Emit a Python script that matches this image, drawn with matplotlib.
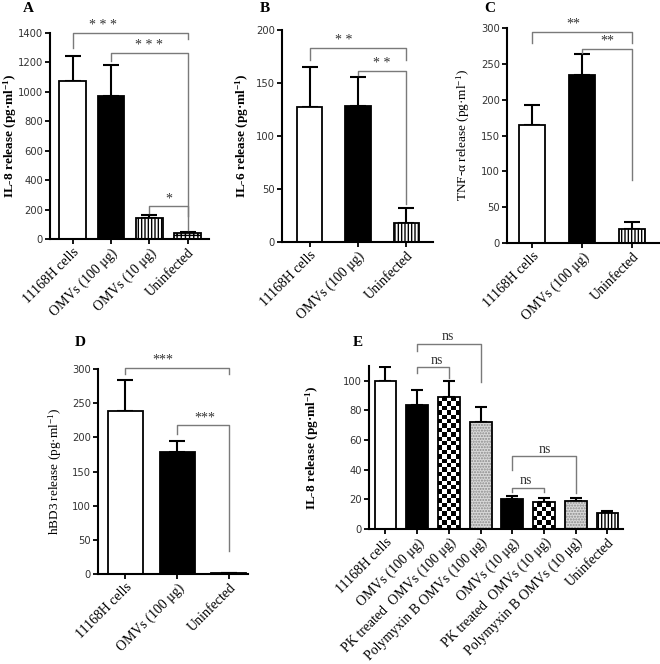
import numpy as np
import matplotlib
matplotlib.use("Agg")
import matplotlib.pyplot as plt

plt.rcParams['font.family'] = ['Liberation Serif', 'DejaVu Serif']
plt.rcParams['mathtext.default'] = 'regular'

# panel A
a_labels = ['11168H cells', 'OMVs (100 μg)', 'OMVs (10 μg)', 'Uninfected']
a_vals = [1075, 975, 145, 40]
a_err = [170, 205, 20, 10]
a_ticks = [0, 200, 400, 600, 800, 1000, 1200, 1400]

# panel B
b_labels = ['11168H cells', 'OMVs (100 μg)', 'Uninfected']
b_vals = [127, 128, 18]
b_err = [38, 28, 14]
b_ticks = [0, 50, 100, 150, 200]

# panel C
c_labels = ['11168H cells', 'OMVs (100 μg)', 'Uninfected']
c_vals = [165, 235, 20]
c_err = [28, 29, 9]
c_ticks = [0, 50, 100, 150, 200, 250, 300]

# panel D
d_labels = ['11168H cells', 'OMVs (100 μg)', 'Uninfected']
d_vals = [238, 179, 1]
d_err = [46, 15, 0]
d_ticks = [0, 50, 100, 150, 200, 250, 300]

# panel E
e_labels = ['11168H cells', 'OMVs (100 μg)', 'PK treated  OMVs (100 μg)',
            'Polymyxin B OMVs (100 μg)', 'OMVs (10 μg)', 'PK treated  OMVs (10 μg)',
            'Polymyxin B OMVs (10 μg)', 'Uninfected']
e_vals = [100, 84, 89, 72, 20, 18, 19, 11]
e_err = [9, 10, 11, 10, 2, 3, 2, 1]
e_ticks = [0, 20, 40, 60, 80, 100]

# brackets: (from, to, top, left end, right end, text, text x)
a_sig = [(0, 3, 1400, 1300, 1360, '* * *', 0.8), (1, 3, 1264, 1207, 63, '* * *', 2.0),
         (2, 3, 222, 177, 154, '*', 2.5)]
b_sig = [(0, 2, 183, 172, 172, '* *', 0.7), (1, 2, 161, 158, 36, '* *', 1.5)]
c_sig = [(0, 2, 295, 279, 279, '**', 0.82), (1, 2, 271, 265, 88, '**', 1.5)]
d_sig = [(0, 2, 302, 292, 292, '***', 0.73), (1, 2, 217.5, 205, 34, '***', 1.53)]
e_sig = [(1, 3, 125, 120, 99.5, 'ns', 1.97), (1, 2, 109, 105, 102, 'ns', 1.62),
         (4, 6, 49, 40, 24, 'ns', 5.03), (4, 5, 27.6, 25, 25, 'ns', 4.43)]

W, H = 660, 664
fig = plt.figure(figsize=(W / 100, H / 100), dpi=100)


def px_axes(x0, x1, ytop, ybot):
    return fig.add_axes([x0 / W, 1 - ybot / H, (x1 - x0) / W, (ybot - ytop) / H])


def checker(ax, patch, cell=4.4):
    bb = patch.get_window_extent()
    nx = max(1, int(round(bb.width / cell)))
    ny = max(1, int(round(bb.height / cell)))
    arr = np.add.outer(np.arange(ny), np.arange(nx)) % 2
    x0, y0 = patch.get_xy()
    im = ax.imshow(arr, cmap='gray', extent=(x0, x0 + patch.get_width(), y0, y0 + patch.get_height()),
                   aspect='auto', interpolation='nearest', origin='lower', zorder=2)
    im.set_clip_path(patch)


def panel(ax, labels, vals, err, styles, ticks, ylim, xlim, width, ylabel, bold, sig, cap, lsize, label_px):
    x = np.arange(len(vals))
    ax.set_xlim(*xlim)
    ax.set_ylim(*ylim)
    for i, (v, st) in enumerate(zip(vals, styles)):
        if st == 'white':
            ax.bar(x[i], v, width, color='white', edgecolor='black', lw=1.3, zorder=2)
        elif st == 'black':
            ax.bar(x[i], v, width, color='black', edgecolor='black', lw=1.3, zorder=2)
        elif st == 'vline':
            ax.bar(x[i], v, width, color='white', edgecolor='black', hatch='|||||', lw=1.3, zorder=2)
        elif st == 'grid':
            ax.bar(x[i], v, width, color='white', edgecolor='black', hatch='++++', lw=1.3, zorder=2)
        elif st == 'dots':
            ax.bar(x[i], v, width, color='#d9d9d9', edgecolor='#8a8a8a', hatch='......', lw=0, zorder=2)
            ax.bar(x[i], v, width, fill=False, edgecolor='black', lw=1.3, zorder=3)
        elif st == 'check':
            b = ax.bar(x[i], v, width, fill=False, edgecolor='black', lw=1.3, zorder=3)
            checker(ax, b[0])
    ax.errorbar(x, vals, yerr=[np.zeros(len(vals)), err], fmt='none', ecolor='black',
                elinewidth=1.5, capsize=cap, capthick=1.5, zorder=1)
    ax.set_xlim(*xlim)
    ax.set_ylim(*ylim)
    for i, j, top, yl, yr, txt, tx in sig:
        ax.plot([x[i], x[i], x[j], x[j]], [yl, top, top, yr], color='#7a7a7a', lw=1.0, clip_on=False)
        ax.text(tx, top + (ylim[1] - ylim[0]) * 0.005, txt, ha='center', va='bottom',
                fontsize=10, color='#333333', clip_on=False)
    ax.spines['top'].set_visible(False)
    ax.spines['right'].set_visible(False)
    ax.spines['left'].set_linewidth(1.5)
    ax.spines['bottom'].set_linewidth(1.5)
    ax.set_yticks(ticks)
    ax.set_yticklabels([str(t) for t in ticks], fontfamily='DejaVu Sans', fontsize=7.2, color='#333333')
    ax.set_xticks(x)
    ax.set_xticklabels(labels, rotation=45, ha='right', rotation_mode='anchor', fontsize=lsize)
    ax.tick_params(direction='out', length=3.5, width=1.3, pad=1.5)
    ax.set_ylabel(ylabel, fontsize=9.5, fontweight='bold' if bold else 'normal', va='center')
    bb = ax.get_position()
    ax.yaxis.set_label_coords(label_px / W, bb.y0 + bb.height / 2, transform=fig.transFigure)


axA = px_axes(50, 209, 33, 239)
panel(axA, a_labels, a_vals, a_err, ['white', 'black', 'vline', 'grid'], a_ticks, (0, 1400),
      (-0.59, 3.56), 0.7, 'IL-8 release (pg·ml$^{-1}$)', True, a_sig, 6, 10, 10)

axB = px_axes(282, 433, 30, 242)
panel(axB, b_labels, b_vals, b_err, ['white', 'black', 'vline'], b_ticks, (0, 200),
      (-0.57, 2.55), 0.52, 'IL-6 release (pg·ml$^{-1}$)', True, b_sig, 6, 10, 242)

axC = px_axes(507, 659, 28, 243)
panel(axC, c_labels, c_vals, c_err, ['white', 'black', 'vline'], c_ticks, (0, 300),
      (-0.5, 2.53), 0.52, 'TNF-α release (pg·ml$^{-1}$)', False, c_sig, 6, 10, 463)

axD = px_axes(98, 248, 369, 574)
panel(axD, d_labels, d_vals, d_err, ['white', 'black', 'white'], d_ticks, (0, 300),
      (-0.53, 2.37), 0.68, 'hBD3 release (pg·ml$^{-1}$)', False, d_sig, 6, 10, 55)

axE = px_axes(369, 623, 366, 529)
panel(axE, e_labels, e_vals, e_err, ['white', 'black', 'check', 'dots', 'black', 'check', 'dots', 'vline'],
      e_ticks, (0, 110), (-0.52, 7.49), 0.69, 'IL-8 release (pg·ml$^{-1}$)', True, e_sig, 4.5, 10, 312)

for lab, (px, py) in zip('ABCDE', [(28, 9), (265, 9), (490, 9), (80, 342), (358, 342)]):
    fig.text(px / W, 1 - py / H, lab, fontsize=11, fontweight='bold', ha='center', va='center')

fig.savefig('out.png', dpi=100)
